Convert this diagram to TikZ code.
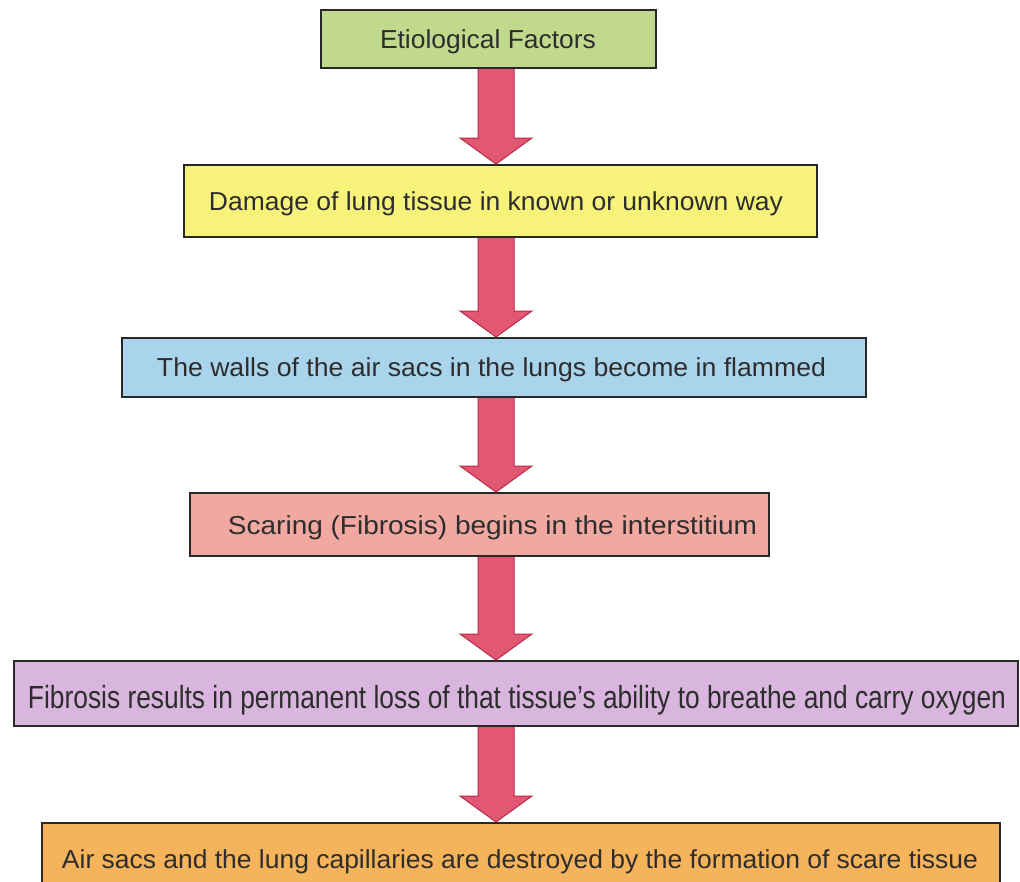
\documentclass[tikz,border=0pt]{standalone}
\usepackage{fontspec}
\setmainfont{Liberation Sans}
\usetikzlibrary{calc}
\definecolor{boxedge}{RGB}{40,40,40}
\definecolor{inkgray}{RGB}{45,45,45}
\definecolor{cgreen}{RGB}{192,217,140}
\definecolor{cyellow}{RGB}{247,243,122}
\definecolor{cblue}{RGB}{170,212,236}
\definecolor{cpink}{RGB}{241,168,160}
\definecolor{cpurple}{RGB}{217,182,221}
\definecolor{corange}{RGB}{245,179,92}
\definecolor{arrowfill}{RGB}{226,88,114}
\definecolor{arrowedge}{RGB}{182,40,72}
% text stretched/condensed to a given width, height kept
\newcommand\fitw[2]{\resizebox{#1}{\height}{#2}}
% thick block arrow from the bottom of one box to the top of the next
\newcommand\fatarrow[2]{%
  \filldraw[fat] ($(ax|-#1.south)+(-18,0)$) -- ($(ax|-#2.north)+(-18,-26)$)
    -- ($(ax|-#2.north)+(-36,-26)$) -- (ax|-#2.north)
    -- ($(ax|-#2.north)+(36,-26)$) -- ($(ax|-#2.north)+(18,-26)$)
    -- ($(ax|-#1.south)+(18,0)$);}
\begin{document}
\begin{tikzpicture}[x=1pt,y=-1pt,
  flowbox/.style={draw=boxedge,line width=2pt,inner sep=0pt,minimum width=#1},
  label/.style={inner sep=0pt,text=inkgray,font=\fontsize{26}{30}\selectfont},
  fat/.style={fill=arrowfill,draw=arrowedge,line width=1pt,line join=miter}]
\useasboundingbox (0,0) rectangle (1020,881);
\begin{scope}
\clip (0,0) rectangle (1020,881);
\fill[white] (0,0) rectangle (1020,881);
\coordinate (ax) at (496,0);

\node[flowbox=335pt,minimum height=58pt,fill=cgreen] (b1) at (488.5,39) {};
\node[flowbox=633pt,minimum height=72pt,fill=cyellow] (b2) at (500.5,201) {};
\node[flowbox=744pt,minimum height=59pt,fill=cblue] (b3) at (494,367.5) {};
\node[flowbox=579pt,minimum height=63pt,fill=cpink] (b4) at (479.5,524.5) {};
\node[flowbox=1004pt,minimum height=65pt,fill=cpurple] (b5) at (516,693.5) {};
\node[flowbox=958pt,minimum height=80pt,fill=corange] (b6) at (521,863) {};

\node[label,anchor=base] (t1) at (488,48) {\fitw{216pt}{Etiological Factors}};
\node[label,anchor=base] (t2) at (496,210) {\fitw{574pt}{Damage of lung tissue in known or unknown way}};
\node[label,anchor=base] (t3) at (491.5,376) {\fitw{669pt}{The walls of the air sacs in the lungs become in flammed}};
\node[label,anchor=base] (t4) at (492.5,534) {\fitw{529pt}{Scaring (Fibrosis) begins in the interstitium}};
\node[label,anchor=base,font=\fontsize{32}{36}\selectfont] (t5) at (517,708) {\fitw{978pt}{Fibrosis results in permanent loss of that tissue’s ability to breathe and carry oxygen}};
\node[label,anchor=base] (t6) at (520,868) {\fitw{916pt}{Air sacs and the lung capillaries are destroyed by the formation of scare tissue}};

\fatarrow{b1}{b2}
\fatarrow{b2}{b3}
\fatarrow{b3}{b4}
\fatarrow{b4}{b5}
\fatarrow{b5}{b6}
\end{scope}
\end{tikzpicture}
\end{document}
